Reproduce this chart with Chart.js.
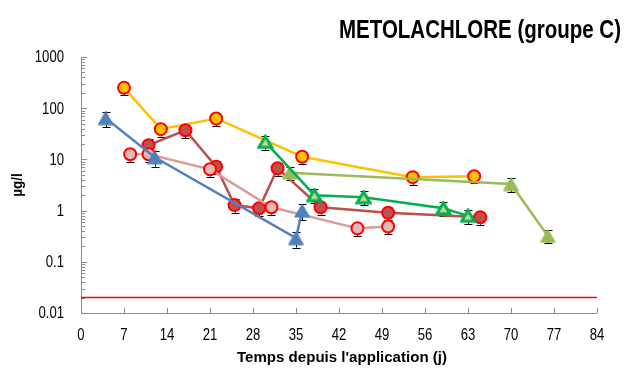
<!DOCTYPE html>
<html>
<head>
<meta charset="utf-8">
<script src="https://cdn.jsdelivr.net/npm/chart.js@4/dist/chart.umd.min.js"></script>
<style>
  html, body { margin: 0; padding: 0; background: #ffffff; }
  #wrap { width: 633px; height: 374px; position: relative; }
</style>
</head>
<body>
<div id="wrap"><canvas id="c" width="633" height="374"></canvas></div>
<script>
// Metolachlore concentrations (µg/l) versus days since application, six sites.
const xTicks = [0, 7, 14, 21, 28, 35, 42, 49, 56, 63, 70, 77, 84];
const yTicks = [0.01, 0.1, 1, 10, 100, 1000];
const limitValue = 0.02;

const yellowDays = [7, 13, 22, 36, 54, 64];
const yellowValues = [250, 39, 63, 11.3, 4.5, 4.7];
const yellowErrors = [70, 11, 18, 3.2, 1.3, 1.3];

const darkRedDays = [11, 17, 22, 25, 29, 32, 39, 50, 65];
const darkRedValues = [19, 37, 7.2, 1.28, 1.11, 6.7, 1.16, 0.91, 0.74];
const darkRedErrors = [5.5, 11, 2.0, 0.37, 0.32, 1.9, 0.33, 0.26, 0.21];

const pinkDays = [8, 11, 21, 31, 45, 50];
const pinkValues = [12.6, 12.6, 6.4, 1.16, 0.45, 0.49];
const pinkErrors = [3.6, 3.6, 1.8, 0.33, 0.13, 0.14];

const blueDays = [4, 12, 35, 36];
const blueValues = [64, 11, 0.29, 1.0];
const blueErrors = [22, 3.8, 0.1, 0.35];

const greenDays = [30, 38, 46, 59, 63];
const greenValues = [22, 2.0, 1.82, 1.11, 0.79];
const greenErrors = [6.5, 0.6, 0.55, 0.33, 0.24];

const oliveDays = [34, 70, 76];
const oliveValues = [5.5, 3.3, 0.32];
const oliveErrors = [1.6, 1.0, 0.09];

const FONT = '"Liberation Sans", Arial, sans-serif';

function pts(xs, ys, es) {
  return xs.map((x, i) => ({ x: x, y: ys[i], e: es ? es[i] : 0 }));
}

// A triangle marker centred in its own box
function triangleMarker(fill, edge, edgeWidth) {
  const w = 17, h = 15;
  const cv = document.createElement('canvas');
  cv.width = w;
  cv.height = h;
  const c = cv.getContext('2d');
  const inset = edgeWidth / 2 + 0.5;
  c.beginPath();
  c.moveTo(w / 2, inset);
  c.lineTo(w - inset, h - inset);
  c.lineTo(inset, h - inset);
  c.closePath();
  c.fillStyle = fill;
  c.fill();
  c.lineJoin = 'miter';
  c.lineWidth = edgeWidth;
  c.strokeStyle = edge;
  c.stroke();
  return cv;
}

function circleSeries(xs, ys, es, fill, line) {
  return {
    data: pts(xs, ys, es),
    showLine: true,
    borderColor: line,
    borderWidth: 2.5,
    pointStyle: 'circle',
    pointRadius: 6,
    pointBorderWidth: 2,
    pointBackgroundColor: fill,
    pointBorderColor: '#ff0000',
    errorBars: true
  };
}

function triangleSeries(xs, ys, es, fill, edge, line, edgeWidth) {
  return {
    data: pts(xs, ys, es),
    showLine: true,
    borderColor: line,
    borderWidth: 2.5,
    pointStyle: triangleMarker(fill, edge, edgeWidth),
    pointRadius: 8,
    errorBars: true
  };
}

// Text squeezed horizontally to give a narrow typeface look
function narrowText(ctx, text, x, y, align, squeeze) {
  ctx.save();
  ctx.translate(x, y);
  ctx.scale(squeeze, 1);
  ctx.textAlign = align;
  ctx.fillText(text, 0, 0);
  ctx.restore();
}

// Axis lines, inside tick marks, tick labels, titles and error whiskers
const decorPlugin = {
  id: 'decor',
  beforeDatasetsDraw(chart) {
    const ctx = chart.ctx;
    const xs = chart.scales.x, ys = chart.scales.y;
    const a = chart.chartArea;
    ctx.save();
    ctx.strokeStyle = '#8c8c8c';
    ctx.lineWidth = 1;
    ctx.beginPath();
    ctx.moveTo(a.left + 0.5, a.top);
    ctx.lineTo(a.left + 0.5, a.bottom + 0.5);
    ctx.lineTo(a.right, a.bottom + 0.5);
    ctx.stroke();
    ctx.beginPath();
    xTicks.forEach(v => {
      const px = Math.round(xs.getPixelForValue(v)) + 0.5;
      ctx.moveTo(px, a.bottom);
      ctx.lineTo(px, a.bottom - 5);
    });
    for (let d = -2; d <= 3; d++) {
      for (let m = 1; m <= 9; m++) {
        const v = m * Math.pow(10, d);
        if (v > 1000) break;
        const py = Math.round(ys.getPixelForValue(v)) + 0.5;
        ctx.moveTo(a.left, py);
        ctx.lineTo(a.left + (m === 1 ? 6 : 4), py);
      }
    }
    ctx.stroke();

    // tick labels
    ctx.fillStyle = '#000000';
    ctx.font = '16px ' + FONT;
    ctx.textBaseline = 'middle';
    yTicks.forEach(v => {
      narrowText(ctx, String(v), a.left - 17, ys.getPixelForValue(v) + 1, 'right', 0.82);
    });
    xTicks.forEach(v => {
      narrowText(ctx, String(v), xs.getPixelForValue(v), 336, 'center', 0.82);
    });

    // error whiskers, drawn under the markers
    ctx.strokeStyle = '#000000';
    ctx.lineWidth = 1;
    chart.data.datasets.forEach(ds => {
      if (!ds.errorBars) return;
      ds.data.forEach(p => {
        const px = Math.round(xs.getPixelForValue(p.x)) + 0.5;
        const yHi = ys.getPixelForValue(p.y + p.e);
        const yLo = ys.getPixelForValue(Math.max(p.y - p.e, 0.0011));
        ctx.beginPath();
        ctx.moveTo(px, yHi);
        ctx.lineTo(px, yLo);
        ctx.moveTo(px - 4, Math.round(yHi) + 0.5);
        ctx.lineTo(px + 4, Math.round(yHi) + 0.5);
        ctx.moveTo(px - 4, Math.round(yLo) + 0.5);
        ctx.lineTo(px + 4, Math.round(yLo) + 0.5);
        ctx.stroke();
      });
    });
    ctx.restore();
  },
  afterDraw(chart) {
    const ctx = chart.ctx;
    const a = chart.chartArea;
    ctx.save();
    ctx.fillStyle = '#000000';
    ctx.textBaseline = 'alphabetic';
    ctx.font = 'bold 25px ' + FONT;
    const title = 'METOLACHLORE (groupe C)';
    const tw = ctx.measureText(title).width;
    narrowText(ctx, title, 621, 38, 'right', 282 / tw);

    ctx.font = 'bold 15px ' + FONT;
    ctx.textBaseline = 'middle';
    const xt = "Temps depuis l'application (j)";
    const xw = ctx.measureText(xt).width;
    narrowText(ctx, xt, (a.left + a.right) / 2 + 3, 358, 'center', 210 / xw);

    ctx.translate(18, 185);
    ctx.rotate(-Math.PI / 2);
    narrowText(ctx, 'µg/l', 0, 0, 'center', 0.9);
    ctx.restore();
  }
};

const datasets = [
  triangleSeries(blueDays, blueValues, blueErrors, '#4f81bd', '#4f81bd', '#4f81bd', 1),
  triangleSeries(greenDays, greenValues, greenErrors, '#c3d69b', '#00b050', '#00b050', 3),
  triangleSeries(oliveDays, oliveValues, oliveErrors, '#9bbb59', '#9bbb59', '#9bbb59', 1),
  circleSeries(pinkDays, pinkValues, pinkErrors, '#e6b9b8', '#dc9a99'),
  circleSeries(darkRedDays, darkRedValues, darkRedErrors, '#c0504d', '#b9504e'),
  circleSeries(yellowDays, yellowValues, yellowErrors, '#ffc000', '#ffc000'),
  {
    data: [{ x: xTicks[0], y: limitValue }, { x: xTicks[xTicks.length - 1], y: limitValue }],
    showLine: true,
    borderColor: '#ff0000',
    borderWidth: 1.5,
    pointRadius: 0
  }
];

new Chart(document.getElementById('c'), {
  type: 'scatter',
  data: { datasets: datasets },
  options: {
    responsive: false,
    animation: false,
    layout: { padding: { top: 57, right: 36, left: 0, bottom: 0 } },
    plugins: { legend: { display: false }, tooltip: { enabled: false }, title: { display: false } },
    scales: {
      x: {
        type: 'linear',
        min: 0,
        max: 84,
        afterBuildTicks: s => { s.ticks = xTicks.map(v => ({ value: v })); },
        afterFit: s => { s.height = 61; },
        grid: { display: false, drawTicks: false },
        border: { display: false },
        ticks: { display: false }
      },
      y: {
        type: 'logarithmic',
        min: 0.01,
        max: 1000,
        afterBuildTicks: s => { s.ticks = yTicks.map(v => ({ value: v })); },
        afterFit: s => { s.width = 81; },
        grid: { display: false, drawTicks: false },
        border: { display: false },
        ticks: { display: false }
      }
    }
  },
  plugins: [decorPlugin]
});
</script>
</body>
</html>
